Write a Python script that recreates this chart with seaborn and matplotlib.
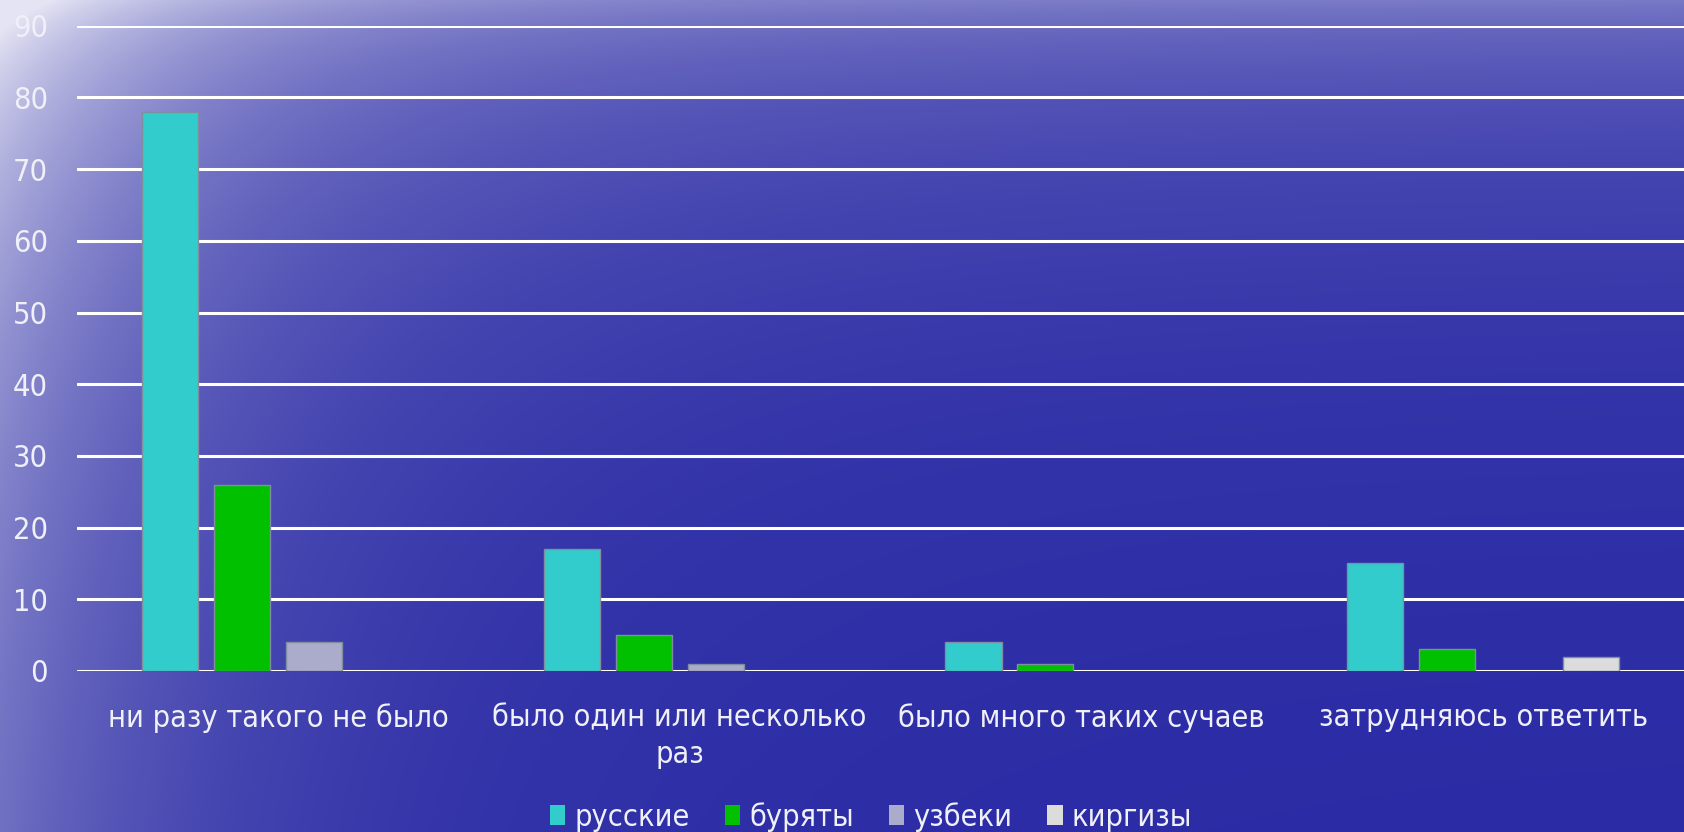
import numpy as np
import pandas as pd
import matplotlib
matplotlib.use("Agg")
import matplotlib.pyplot as plt
import seaborn as sns

categories = ["ни разу такого не было", "было один или несколько\nраз",
              "было много таких сучаев", "затрудняюсь ответить"]
series = ["русские", "буряты", "узбеки", "киргизы"]
russians = [78, 17, 4, 15]
buryats = [26, 5, 1, 3]
uzbeks = [4, 1, 0, 0]
kyrgyz = [0, 0, 0, 2]
yticks = [0, 10, 20, 30, 40, 50, 60, 70, 80, 90]

colors = ["#33CCCC", "#00C000", "#ABABCB", "#DCDCDC"]

rows = []
for s, vals in zip(series, [russians, buryats, uzbeks, kyrgyz]):
    for c, v in zip(categories, vals):
        rows.append({"cat": c, "grp": s, "val": v})
df = pd.DataFrame(rows)

sns.set_theme(style="white")
plt.rcParams['font.family'] = ['DejaVu Sans']
plt.rcParams['font.stretch'] = 'condensed'
TXT = "#F0F0F8"
FS = 22

W, H = 1684, 832
fig = plt.figure(figsize=(W / 100, H / 100), dpi=100)

# background gradient (water-like)
bg = fig.add_axes([0, 0, 1, 1], zorder=-10)
yy, xx = np.mgrid[0:H, 0:W].astype(float)
base = np.array([0x2A, 0x2A, 0xA5]) / 255.0
light = np.array([0xE4, 0xE4, 0xF4]) / 255.0
t_vert = 0.30 * np.exp(-yy / 220.0)
t_strip = 0.12 * np.exp(-yy / 35.0)
t_left = 0.62 * np.exp(-xx / 215.0) * (0.5 + 0.5 * np.exp(-yy / 420.0))
t_lw = 0.10 * np.exp(-xx / 600.0) * np.exp(-yy / 500.0)
t = np.clip(t_vert + t_strip + t_left + t_lw, 0, 1)[..., None]
img = base * (1 - t) + light * t
bg.imshow(img, aspect="auto", extent=[0, 1, 0, 1], origin="upper")
bg.axis("off")

ax = fig.add_axes([77 / W, 1 - 671 / H, 1 - 77 / W, (671 - 25.8) / H])
ax.set_facecolor("none")
sns.barplot(data=df, x="cat", y="val", hue="grp", order=categories,
            hue_order=series, palette=colors, saturation=1, width=0.716,
            gap=0.22, edgecolor="#7F8FA0", linewidth=1.0, ax=ax, zorder=3)
for p in ax.patches:
    if p.get_height() == 0:
        p.set_linewidth(0)

ax.set_ylim(0, 90)
ax.set_yticks(yticks)
ax.yaxis.grid(True, color="white", linewidth=2.2, zorder=0)
ax.set_axisbelow(True)
ax.set_xlim(-0.5, 3.5)
for sp in ax.spines.values():
    sp.set_visible(False)
ax.set_xlabel("")
ax.set_ylabel("")
ax.tick_params(axis="y", labelsize=FS, length=0, pad=21)
ax.tick_params(axis="x", labelsize=FS, length=0, pad=23)
for lbl in ax.get_yticklabels():
    lbl.set_color(TXT)
for lbl in ax.get_xticklabels():
    lbl.set_color(TXT)
    lbl.set_linespacing(1.37)

leg = ax.legend(loc="center", bbox_to_anchor=(871 / W, 15 / H),
                bbox_transform=fig.transFigure, ncol=4, frameon=False,
                fontsize=FS, handlelength=0.5, handleheight=0.6,
                handletextpad=0.3, columnspacing=1.15, borderpad=0.0)
for txt in leg.get_texts():
    txt.set_color(TXT)
for h in leg.legend_handles:
    h.set_linewidth(0)

fig.savefig("out.png", dpi=100)
